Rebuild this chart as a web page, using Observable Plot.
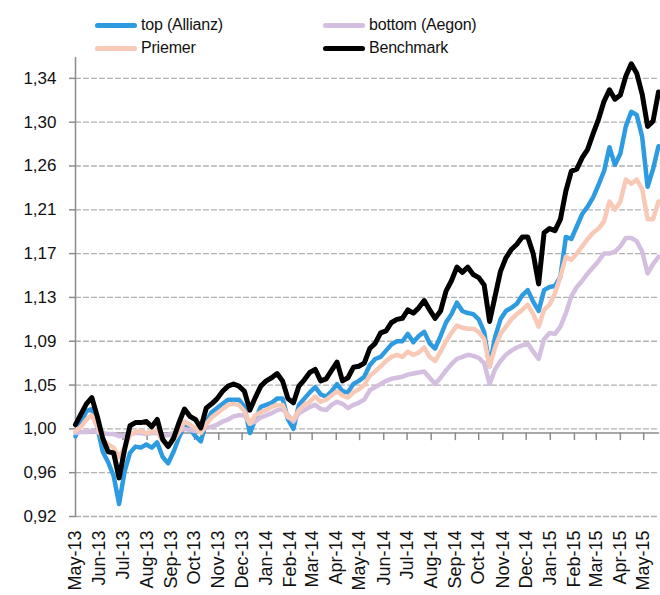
<!DOCTYPE html>
<html>
<head>
<meta charset="utf-8">
<script src="https://cdn.jsdelivr.net/npm/d3@7"></script>
<script src="https://cdn.jsdelivr.net/npm/@observablehq/plot@0.6"></script>
<style>
  body { margin: 0; background: #fff; font-family: "Liberation Sans", Arial, sans-serif; }
  #legend { position: relative; width: 660px; height: 55px; }
  .item { position: absolute; display: flex; align-items: center; height: 20px; font-size: 16px; color: #111; letter-spacing: -0.2px; }
  .sw { width: 42px; height: 5px; border-radius: 3px; margin-right: 4px; }
</style>
</head>
<body>
<div id="legend"></div>
<div id="chart"></div>
<script>
// Weekly observations starting 2013-05-01
const startDate = "2013-05-01";

const topAllianz = [0.997,1.009,1.021,1.023,1.006,0.982,0.972,0.959,0.932,0.963,
0.981,0.987,0.986,0.989,0.986,0.991,0.977,0.971,0.982,0.996,
1.007,1.004,0.997,0.992,1.011,1.020,1.024,1.028,1.032,1.032,
1.032,1.025,1.000,1.013,1.025,1.027,1.029,1.033,1.033,1.013,
1.004,1.027,1.033,1.039,1.044,1.037,1.035,1.040,1.047,1.040,
1.039,1.047,1.050,1.054,1.065,1.071,1.073,1.079,1.085,1.088,
1.088,1.095,1.087,1.093,1.097,1.086,1.081,1.093,1.106,1.114,
1.125,1.117,1.115,1.114,1.109,1.097,1.064,1.092,1.109,1.117,
1.120,1.124,1.132,1.137,1.126,1.117,1.137,1.140,1.141,1.150,
1.188,1.186,1.198,1.210,1.217,1.226,1.238,1.251,1.274,1.257,
1.268,1.294,1.308,1.305,1.284,1.236,1.253,1.275];

const bottomAegon = [1.000,1.001,1.001,1.002,1.001,1.000,0.999,0.999,0.997,0.998,
0.999,1.000,1.000,0.999,1.000,1.000,0.998,0.998,1.000,1.002,
1.004,1.003,1.002,1.002,1.005,1.006,1.008,1.011,1.013,1.016,
1.017,1.017,1.009,1.011,1.015,1.017,1.019,1.022,1.023,1.017,
1.011,1.019,1.022,1.025,1.027,1.023,1.022,1.027,1.030,1.028,
1.024,1.027,1.029,1.032,1.041,1.044,1.047,1.050,1.052,1.053,
1.054,1.056,1.057,1.058,1.059,1.053,1.047,1.053,1.060,1.066,
1.071,1.073,1.075,1.074,1.072,1.067,1.047,1.061,1.069,1.075,
1.079,1.082,1.084,1.086,1.078,1.071,1.090,1.096,1.095,1.102,
1.115,1.131,1.140,1.146,1.153,1.159,1.165,1.172,1.172,1.174,
1.179,1.187,1.187,1.184,1.174,1.153,1.162,1.169];

const priemer = [1.002,1.006,1.013,1.017,1.006,0.994,0.989,0.986,0.977,0.986,
0.998,1.001,1.002,1.000,1.001,1.002,0.992,0.987,0.993,1.001,
1.011,1.008,1.005,1.000,1.009,1.015,1.019,1.023,1.027,1.028,
1.027,1.021,1.009,1.017,1.020,1.022,1.025,1.027,1.027,1.015,
1.013,1.022,1.027,1.030,1.035,1.030,1.032,1.036,1.040,1.036,
1.034,1.039,1.042,1.046,1.055,1.059,1.064,1.069,1.073,1.075,
1.073,1.078,1.075,1.077,1.082,1.073,1.069,1.078,1.088,1.096,
1.103,1.101,1.100,1.100,1.097,1.090,1.064,1.082,1.095,1.102,
1.109,1.114,1.118,1.123,1.114,1.102,1.118,1.123,1.134,1.150,
1.169,1.166,1.172,1.179,1.186,1.192,1.196,1.203,1.222,1.214,
1.222,1.243,1.239,1.243,1.234,1.205,1.205,1.222];

const benchmark = [1.008,1.018,1.028,1.034,1.016,0.995,0.982,0.981,0.957,0.984,
1.007,1.010,1.010,1.011,1.006,1.013,0.994,0.987,0.995,1.010,
1.023,1.016,1.013,1.005,1.024,1.028,1.033,1.040,1.045,1.047,
1.045,1.040,1.022,1.034,1.045,1.050,1.053,1.057,1.050,1.033,
1.029,1.045,1.051,1.058,1.061,1.050,1.052,1.060,1.068,1.050,
1.053,1.063,1.064,1.067,1.081,1.086,1.096,1.098,1.106,1.109,
1.110,1.118,1.115,1.120,1.127,1.118,1.110,1.117,1.136,1.146,
1.159,1.154,1.159,1.152,1.149,1.142,1.107,1.131,1.155,1.168,
1.176,1.181,1.188,1.188,1.172,1.143,1.192,1.196,1.194,1.205,
1.232,1.251,1.253,1.264,1.272,1.287,1.301,1.318,1.329,1.320,
1.324,1.342,1.354,1.345,1.325,1.294,1.299,1.327];

const seriesNames = ["top (Allianz)", "bottom (Aegon)", "Priemer", "Benchmark"];
const seriesColors = ["#2e9be0", "#d5bfe0", "#f8c9b7", "#000000"];
const seriesValues = [topAllianz, bottomAegon, priemer, benchmark];
const seriesWidths = [4.5, 4.5, 4.5, 5];

const yTicks = [0.92, 0.962, 1.004, 1.046, 1.088, 1.13, 1.172, 1.214, 1.256, 1.298, 1.34];
const monthTicks = ["2013-05-01","2013-06-01","2013-07-01","2013-08-01","2013-09-01","2013-10-01",
"2013-11-01","2013-12-01","2014-01-01","2014-02-01","2014-03-01","2014-04-01","2014-05-01",
"2014-06-01","2014-07-01","2014-08-01","2014-09-01","2014-10-01","2014-11-01","2014-12-01",
"2015-01-01","2015-02-01","2015-03-01","2015-04-01","2015-05-01"].map(s => new Date(s));

const start = new Date(startDate);
const dates = topAllianz.map((_, i) => d3.utcDay.offset(start, 7 * i));
const first = dates[0], last = dates[dates.length - 1];

// legend
const legend = document.getElementById("legend");
const legendPos = [[95, 15], [323, 15], [95, 38], [323, 38]];
seriesNames.forEach((name, i) => {
  const el = document.createElement("div");
  el.className = "item";
  el.style.left = legendPos[i][0] + "px";
  el.style.top = legendPos[i][1] + "px";
  el.innerHTML = `<span class="sw" style="background:${seriesColors[i]}"></span><span>${name}</span>`;
  legend.appendChild(el);
});

const axisColor = "#8c8c8c";
const fmt = d => d.toFixed(2).replace(".", ",");

// helper rows for grid and axis segments (drawn with line marks)
const gridRows = yTicks.flatMap(t => [{x: first, y: t, k: t}, {x: last, y: t, k: t}]);
const baseRows = [{x: first, y: 1}, {x: last, y: 1}];
const monthTickLen = 0.0063;
const monthRows = monthTicks.flatMap(m => [{x: m, y: 1, k: +m}, {x: m, y: 1 - monthTickLen, k: +m}]);
const yAxisRows = [{x: first, y: 0.92}, {x: first, y: 1.36}];

const lineMarks = seriesValues.map((vals, k) =>
  Plot.line(vals.map((v, i) => ({date: dates[i], value: v})), {
    x: "date", y: "value", stroke: seriesColors[k], strokeWidth: seriesWidths[k],
    strokeLinejoin: "round", strokeLinecap: "round"
  })
);

const chart = Plot.plot({
  width: 660,
  height: 540,
  marginLeft: 75,
  marginRight: 2,
  marginTop: 2,
  marginBottom: 79,
  style: { fontFamily: '"Liberation Sans", Arial, sans-serif', fontSize: "17px", color: "#111", background: "#fff" },
  x: { type: "utc", domain: [first, last], label: null },
  y: { domain: [0.92, 1.36], label: null },
  marks: [
    Plot.line(gridRows, { x: "x", y: "y", z: "k", stroke: "#b0b0b0", strokeWidth: 1.3, strokeDasharray: "5,3" }),
    Plot.line(yAxisRows, { x: "x", y: "y", stroke: axisColor, strokeWidth: 1.5 }),
    Plot.line(baseRows, { x: "x", y: "y", stroke: axisColor, strokeWidth: 1.5 }),
    Plot.line(monthRows, { x: "x", y: "y", z: "k", stroke: axisColor, strokeWidth: 1.5 }),
    Plot.axisY(yTicks, { tickSize: 6, tickPadding: 13, tickFormat: fmt, stroke: axisColor, strokeWidth: 1.5, fill: "#111", fontSize: 17, label: null }),
    Plot.axisX(monthTicks, { anchor: "bottom", tickSize: 0, tickPadding: 14, tickRotate: -90, tickFormat: d3.utcFormat("%b-%y"), fill: "#111", fontSize: 18, label: null }),
    ...lineMarks
  ]
});
document.getElementById("chart").appendChild(chart);
</script>
</body>
</html>
